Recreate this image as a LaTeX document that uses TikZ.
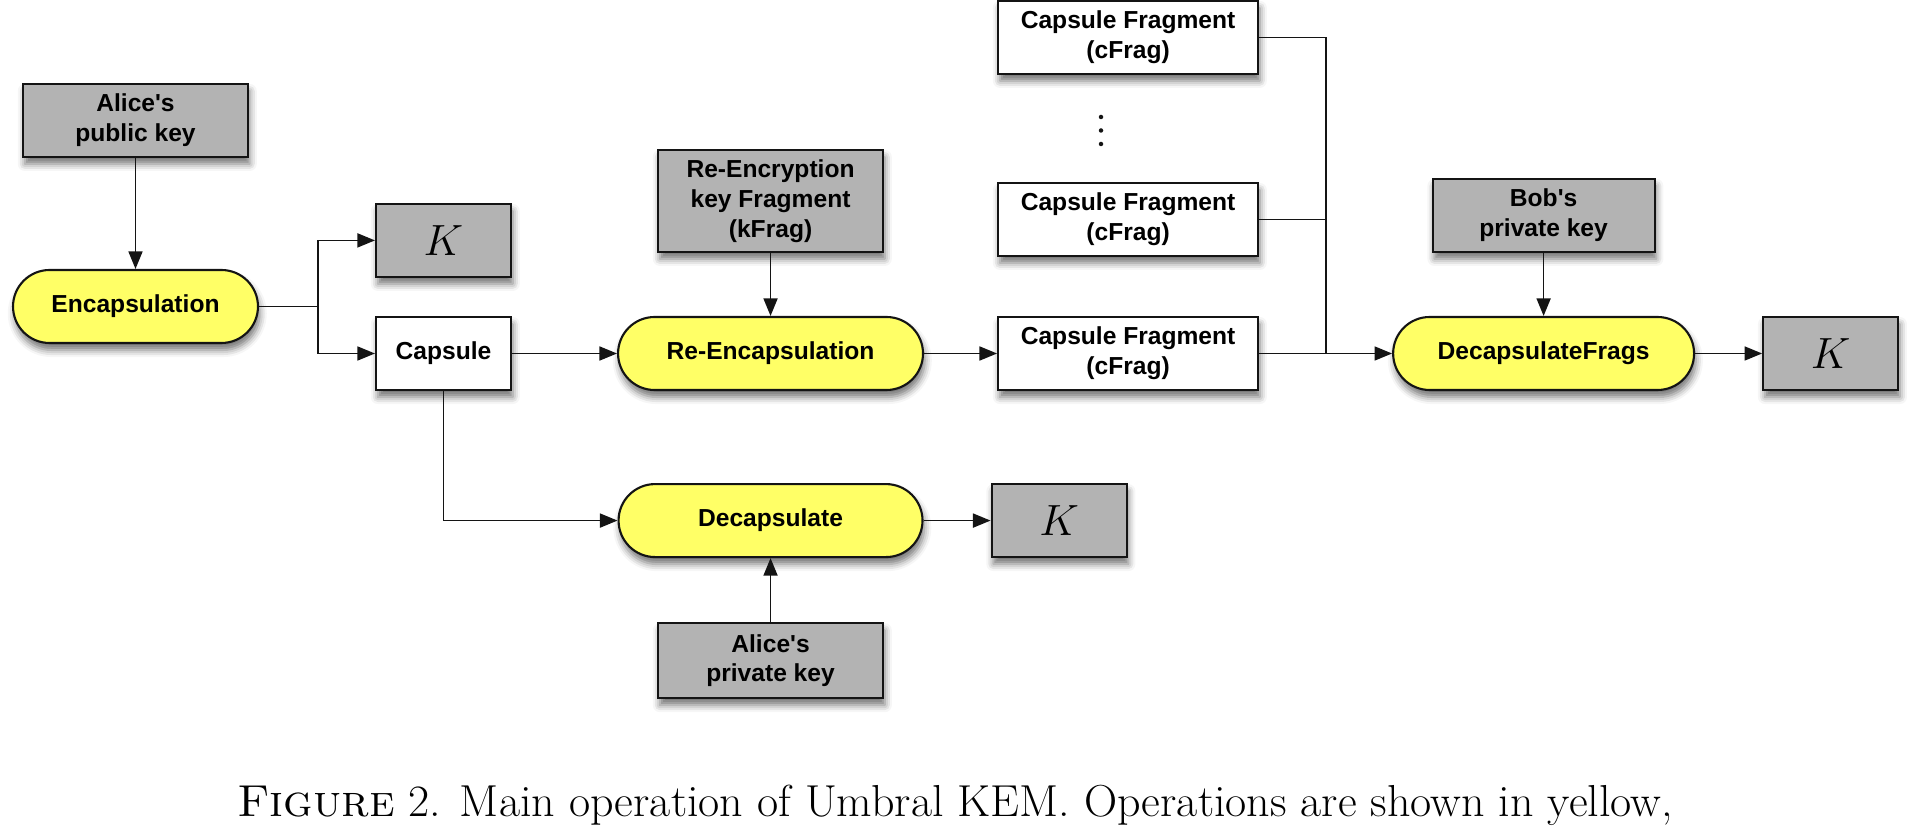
\documentclass[tikz,border=0pt]{standalone}
\usepackage{fontspec}
\usepackage{graphicx}
\usepackage{tikz}
\usetikzlibrary{arrows.meta, positioning, shadows.blur}
\newfontfamily\boxfont{Liberation Sans}
\definecolor{opyellow}{RGB}{255,255,102}
\definecolor{keygray}{RGB}{179,179,179}
\definecolor{edgeblack}{RGB}{20,20,20}
\tikzset{
  block/.style={rectangle, draw=edgeblack, line width=1.2pt, minimum height=1.46cm,
    align=center, inner sep=2pt,
    font=\boxfont\bfseries\fontsize{14}{17}\selectfont,
    blur shadow={shadow xshift=1pt, shadow yshift=-4pt, shadow blur radius=4pt, shadow opacity=55}},
  opblock/.style={block, rounded corners=0.73cm, fill=opyellow},
  keyblock/.style={block, fill=keygray, minimum width=4.5cm},
  datablock/.style={block, fill=white, minimum width=5.2cm},
  kblock/.style={block, fill=keygray, minimum width=2.7cm, font=\Huge},
  arrow/.style={-{Triangle[length=10pt, width=8pt]}, line width=0.9pt, color=edgeblack},
  wire/.style={line width=0.9pt, color=edgeblack},
}

\begin{document}
\begin{tikzpicture}[x=0.02cm, y=-0.02cm]
  \useasboundingbox (0,0) rectangle (1908,830);
  % encapsulation
  \node[opblock, minimum width=4.9cm] (enc) at (135.5,306.5) {Encapsulation};
  \node[keyblock, above=2.22cm of enc] (pubkey) {Alice\textquotesingle s\\public key};
  \node[datablock, minimum width=2.7cm] (capsule) at (443.5,353.5) {Capsule};
  \node[kblock, above=0.76cm of capsule] (kone) {$K$};
  % re-encapsulation
  \node[opblock, right=2.1cm of capsule, minimum width=6.1cm] (reenc) {Re-Encapsulation};
  \node[keyblock, above=1.26cm of reenc, minimum height=2.04cm] (kfrag) {Re-Encryption\\key Fragment\\(kFrag)};
  \node[datablock, right=1.46cm of reenc] (cfragc) {Capsule Fragment\\(cFrag)};
  \node[datablock, above=1.18cm of cfragc] (cfragb) {Capsule Fragment\\(cFrag)};
  \node[datablock, above=2.14cm of cfragb] (cfraga) {Capsule Fragment\\(cFrag)};
  \coordinate (dots) at (1101,130.5);
  \foreach \k in {-1,0,1}
    \fill[edgeblack] ($(dots)+(0,\k*13.5)$) circle (0.045cm);
  % decapsulation of fragments
  \node[opblock, right=2.66cm of cfragc, minimum width=6.02cm] (decfrags) {DecapsulateFrags};
  \node[keyblock, above=1.26cm of decfrags, minimum width=4.44cm] (bobkey) {Bob\textquotesingle s\\private key};
  \node[kblock, right=1.34cm of decfrags] (kthree) {$K$};
  % direct decapsulation
  \node[opblock, below=1.84cm of reenc, minimum width=6.08cm] (decap) {Decapsulate};
  \node[kblock, right=1.34cm of decap] (ktwo) {$K$};
  \node[keyblock, below=1.28cm of decap, minimum height=1.5cm] (alicekey) {Alice\textquotesingle s\\private key};
  \coordinate[right=1.18cm of enc.east] (encsplit);
  \coordinate[right=1.34cm of cfragc.east] (merge);
  \draw[arrow] (pubkey) -- (enc);
  \draw[wire] (enc.east) -- (encsplit);
  \draw[arrow] (encsplit) |- (kone.west);
  \draw[arrow] (encsplit) |- (capsule.west);
  \draw[arrow] (capsule) -- (reenc);
  \draw[arrow] (kfrag) -- (reenc);
  \draw[arrow] (reenc) -- (cfragc);
  \draw[wire] (cfraga.east) -| (merge);
  \draw[wire] (cfragb.east) -| (merge);
  \draw[arrow] (cfragc.east) -- (decfrags.west);
  \draw[arrow] (bobkey) -- (decfrags);
  \draw[arrow] (decfrags) -- (kthree);
  \draw[arrow] (capsule.south) |- (decap.west);
  \draw[arrow] (decap) -- (ktwo);
  \draw[arrow] (alicekey) -- (decap);
  \node[anchor=base, inner sep=0pt, font=\fontsize{25.5}{30}\selectfont] (caption) at (955,817)
    {\resizebox{28.72cm}{\height}{\textsc{Figure} 2. Main operation of Umbral KEM. Operations are shown in yellow,}};
\end{tikzpicture}
\end{document}
